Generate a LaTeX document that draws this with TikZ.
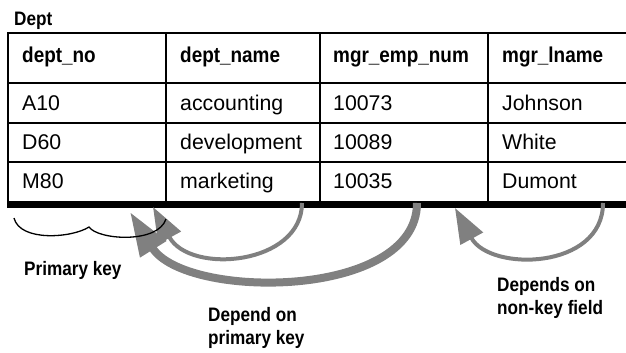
\documentclass[tikz,border=0pt]{standalone}
\usepackage{fontspec}
\setmainfont{Liberation Sans}
\newfontfamily\narrowfont[FakeStretch=0.88]{Liberation Sans}
\usetikzlibrary{arrows.meta}
\definecolor{arrowgray}{HTML}{808080}
\tikzset{
  cell/.style={anchor=base west, inner sep=0pt, font=\fontsize{21.3}{25}\selectfont},
  head/.style={anchor=base west, inner sep=0pt, font=\narrowfont\bfseries\fontsize{21.5}{25}\selectfont},
  note/.style={anchor=north west, inner sep=0pt, align=left, font=\narrowfont\bfseries\fontsize{19.5}{23.5}\selectfont},
  grid/.style={line width=1.2pt},
  dep/.style={draw=arrowgray, line width=4pt, -{Triangle[length=35pt,width=25pt]}, color=arrowgray},
  depbig/.style={draw=arrowgray, line width=8pt, -{Triangle[length=44pt,width=29pt]}, color=arrowgray}
}
\begin{document}
\begin{tikzpicture}[x=1pt,y=-1pt]
\useasboundingbox (0,0) rectangle (626,353);

% table caption
\node[anchor=base west, inner sep=0pt, font=\narrowfont\bfseries\fontsize{19.5}{22}\selectfont] (cap) at (14,25.5) {Dept};

% table frame and grid
\draw[line width=2pt] (8,201) -- (8,33) -- (627,33);
\draw[grid] (8,83) -- (627,83);
\draw[grid] (8,123) -- (627,123);
\draw[grid] (8,162) -- (627,162);
\draw[grid] (166,33) -- (166,201);
\draw[grid] (320,33) -- (320,201);
\draw[grid] (488,33) -- (488,201);
\fill (7,201) rectangle (627,208);

% header row
\node[head] (h1) at (22,63) {dept\_no};
\node[head] (h2) at (180,63) {dept\_name};
\node[head] (h3) at (333,63) {mgr\_emp\_num};
\node[head] (h4) at (502,63) {mgr\_lname};

% data rows
\node[cell] (a1) at (22,110) {A10};
\node[cell] (a2) at (180,110) {accounting};
\node[cell] (a3) at (333,110) {10073};
\node[cell] (a4) at (502,110) {Johnson};
\node[cell] (b1) at (22,149.5) {D60};
\node[cell] (b2) at (180,149.5) {development};
\node[cell] (b3) at (333,149.5) {10089};
\node[cell] (b4) at (502,149.5) {White};
\node[cell] (c1) at (22,188.5) {M80};
\node[cell] (c2) at (180,188.5) {marketing};
\node[cell] (c3) at (333,188.5) {10035};
\node[cell] (c4) at (502,188.5) {Dumont};

% dependency arrows
\coordinate (nameSrc) at (302,203);
\coordinate (keyTipA) at (153,207);
\coordinate (numSrc) at (417,203);
\coordinate (keyTipB) at (130,212);
\coordinate (lnameSrc) at (603,203);
\coordinate (numTip) at (455,208);

\draw[dep] (nameSrc) .. controls (302,265) and (190,275) .. (keyTipA);
\draw[depbig] (numSrc) .. controls (417,300) and (185,300) .. (keyTipB);
\draw[dep] (lnameSrc) .. controls (603,270) and (490,272) .. (numTip);

% brace under the key column, drawn over the arrow heads
\draw[line width=1.3pt] (14,218) .. controls (20,242) and (72,238) .. (89,227)
      .. controls (98,240) and (158,244) .. (166,219);

% labels
\node[note] (pk) at (24,261) {Primary key};
\node[note] (dpk) at (208,307) {Depend on\\primary key};
\node[note] (dnk) at (497,277) {Depends on\\non-key field};
\end{tikzpicture}
\end{document}
